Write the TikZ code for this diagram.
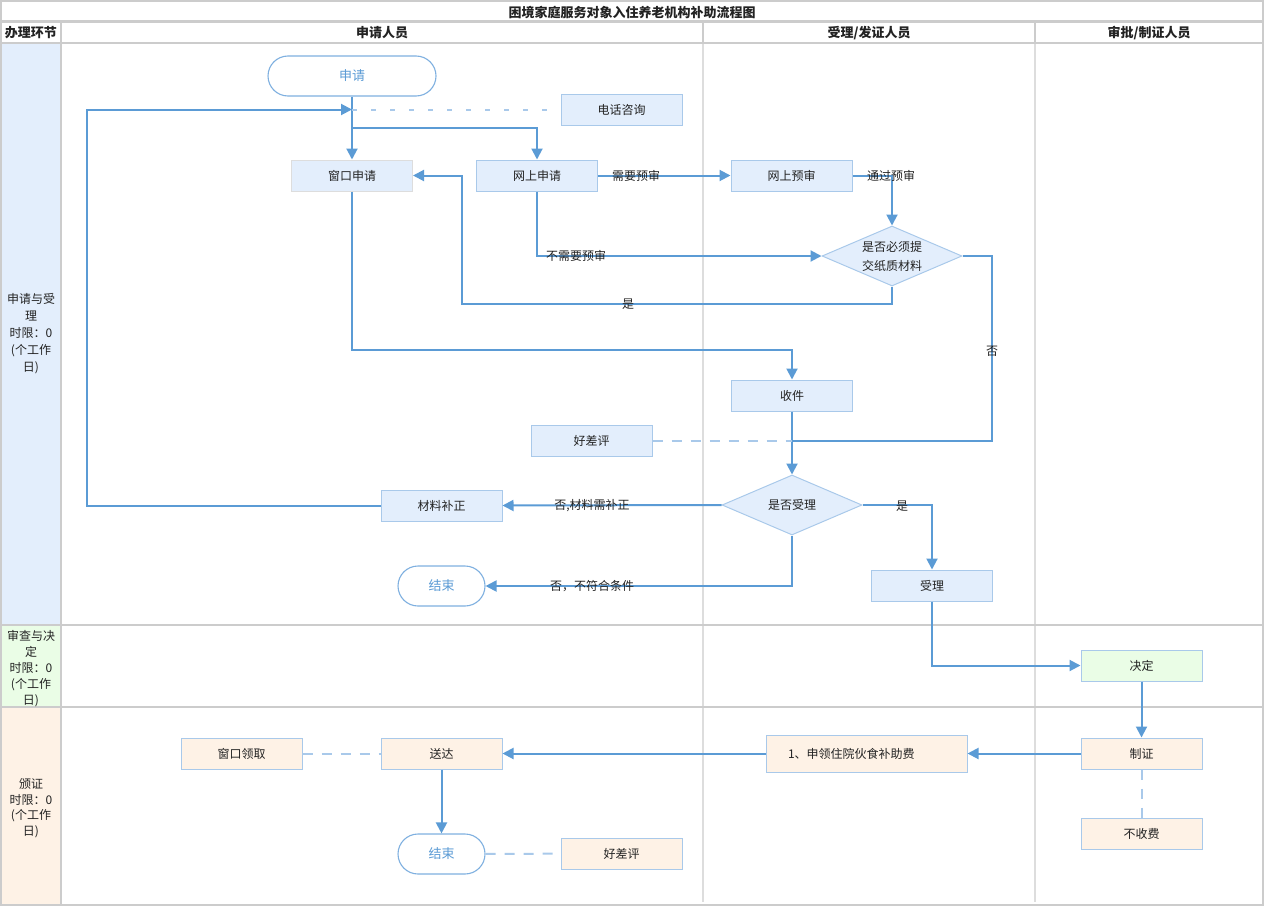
\documentclass[tikz,border=0pt]{standalone}
\usepackage{fontspec}
\setmainfont{Noto Sans CJK SC}
\usetikzlibrary{arrows.meta,shapes.geometric}
\definecolor{ln}{HTML}{5B9BD5}
\definecolor{dsh}{HTML}{A9C9EA}
\definecolor{bfill}{HTML}{E3EEFC}
\definecolor{gfill}{HTML}{EAFDE6}
\definecolor{ofill}{HTML}{FEF2E6}
\definecolor{bdr}{HTML}{A9C9EA}
\definecolor{grid}{HTML}{CCCCCC}
\definecolor{gridl}{HTML}{DDDDDD}
\definecolor{txt}{HTML}{222222}
\definecolor{term}{HTML}{7FB0E0}
\begin{document}
\begin{tikzpicture}[x=1pt,y=-1pt,
  every node/.style={font=\fontsize{12}{14}\selectfont, text=txt},
  box/.style={draw=bdr, line width=1pt, minimum width=121pt, minimum height=31pt, inner sep=0pt, fill=bfill},
  gbox/.style={box, fill=gfill},
  obox/.style={box, fill=ofill},
  grbox/.style={box, draw=gridl},
  termnode/.style={draw=term, line width=1.1pt, fill=white, rounded corners=20pt, minimum height=40pt, inner sep=0pt, text=ln, font=\fontsize{13}{15}\selectfont},
  dia/.style={draw=bdr, line width=1pt, fill=bfill, diamond, aspect=2.33, minimum width=140pt, minimum height=60pt, inner sep=0pt, align=center, font=\fontsize{12}{19}\selectfont},
  conn/.style={draw=ln, line width=2pt},
  arr/.style={conn, -{Triangle[length=11pt,width=11pt]}},
  dashline/.style={draw=dsh, line width=2pt, dash pattern=on 10pt off 9pt},
  dotline/.style={draw=dsh, line width=2pt, dash pattern=on 5pt off 14pt},
  lab/.style={inner sep=0pt},
  hdr/.style={inner sep=0pt, font=\fontsize{13}{15}\selectfont\bfseries},
  side/.style={inner sep=0pt, align=center},
]
\useasboundingbox (0,0) rectangle (1281,907);
% left column fills
\fill[bfill] (1,43) rectangle (61,625);
\fill[gfill] (1,625) rectangle (61,707);
\fill[ofill] (1,707) rectangle (61,905);
% grid
\draw[gridl, line width=1.8pt] (703,43) -- (703,902) (1035,43) -- (1035,902);
\draw[grid, line width=2.2pt] (1,1) rectangle (1263,905);
\draw[grid, line width=2.2pt] (1,21.5) -- (1263,21.5) (1,43) -- (1263,43)
  (61,21.5) -- (61,905) (703,21.5) -- (703,43) (1035,21.5) -- (1035,43)
  (1,625) -- (1263,625) (1,707) -- (1263,707);
% headers
\node[hdr] (title) at (632,12) {困境家庭服务对象入住养老机构补助流程图};
\node[hdr] (h0) at (31,33) {办理环节};
\node[hdr] (h1) at (382,33) {申请人员};
\node[hdr] (h2) at (869,33) {受理/发证人员};
\node[hdr] (h3) at (1149,33) {审批/制证人员};
\node[side, font=\fontsize{12}{17}\selectfont] (s1) at (31,334) {申请与受\\理\\时限：0\\(个工作\\日)};
\node[side, font=\fontsize{12}{16}\selectfont] (s2) at (31,669) {审查与决\\定\\时限：0\\(个工作\\日)};
\node[side, font=\fontsize{12}{15.5}\selectfont] (s3) at (31,808) {颁证\\时限：0\\(个工作\\日)};
% nodes
\node[termnode, minimum width=168pt] (start) at (352,76) {申请};
\node[box] (dh) at (621.5,109.5) {电话咨询};
\node[grbox] (wsq) at (352,175.5) {窗口申请};
\node[box] (wssq) at (537,175.5) {网上申请};
\node[box] (wsys) at (791.5,175.5) {网上预审};
\node[dia] (sf) at (892,256) {是否必须提\\交纸质材料};
\node[box] (sj) at (792,395.5) {收件};
\node[box] (hcp1) at (591.5,440.5) {好差评};
\node[dia] (sfsl) at (792,505) {是否受理};
\node[box] (bz) at (441.5,505.5) {材料补正};
\node[termnode, minimum width=87pt] (end1) at (441.5,586) {结束};
\node[box] (sl) at (932,585.5) {受理};
\node[gbox] (jd) at (1141.5,665.5) {决定};
\node[obox] (zz) at (1141.5,753.5) {制证};
\node[obox] (bsf) at (1141.5,833.5) {不收费};
\node[obox, minimum width=201pt, minimum height=37pt, text width=157pt, align=left] (sl2) at (866.5,753.5) {1、申领住院伙食补助费};
\node[obox] (sd) at (441.5,753.5) {送达};
\node[obox] (ck) at (241.5,753.5) {窗口领取};
\node[termnode, minimum width=87pt] (end2) at (441.5,854) {结束};
\node[obox] (hcp2) at (621.5,853.5) {好差评};
% junctions
\coordinate (j1) at (352,109.5);
\coordinate (j2) at (352,128);
\coordinate (j3) at (792,440.5);
% connectors
\draw[arr] (start) -- (wsq);
\draw[arr] (j2) -| (wssq.north);
\draw[dotline] (j1) -- (dh.west);
\draw[arr] (bz.west) -- (87,505.5) -- (87,109.5) -- (j1);
\draw[arr] (wssq) -- (wsys);
\draw[arr] (wsys.east) -| (sf.north);
\draw[arr] (wssq.south) |- (sf.west);
\draw[arr] (sf.south) |- (462,304) |- (wsq.east);
\draw[conn] (sf.east) -| (992,440.5) -- (j3);
\draw[arr] (wsq.south) |- (792,350) -- (sj.north);
\draw[arr] (sj) -- (sfsl);
\draw[dashline] (hcp1.east) -- (j3);
\draw[arr] (sfsl.west) -- (bz.east);
\draw[arr] (sfsl.south) |- (end1.east);
\draw[arr] (sfsl.east) -| (sl.north);
\draw[arr] (sl.south) |- (jd.west);
\draw[arr] (jd) -- (zz);
\draw[arr] (zz) -- (sl2);
\draw[arr] (sl2) -- (sd);
\draw[dashline] (ck.east) -- (sd.west);
\draw[arr] (sd) -- (end2);
\draw[dashline] (end2) -- (hcp2);
\draw[dashline] (zz) -- (bsf);
% labels
\node[lab] (l1) at (636,176) {需要预审};
\node[lab] (l2) at (891,176) {通过预审};
\node[lab] (l3) at (576,256) {不需要预审};
\node[lab] (l4) at (628,304) {是};
\node[lab] (l5) at (992,351) {否};
\node[lab] (l6) at (592,506) {否,材料需补正};
\node[lab] (l7) at (592,586) {否，不符合条件};
\node[lab] (l8) at (902,506) {是};
\end{tikzpicture}
\end{document}
